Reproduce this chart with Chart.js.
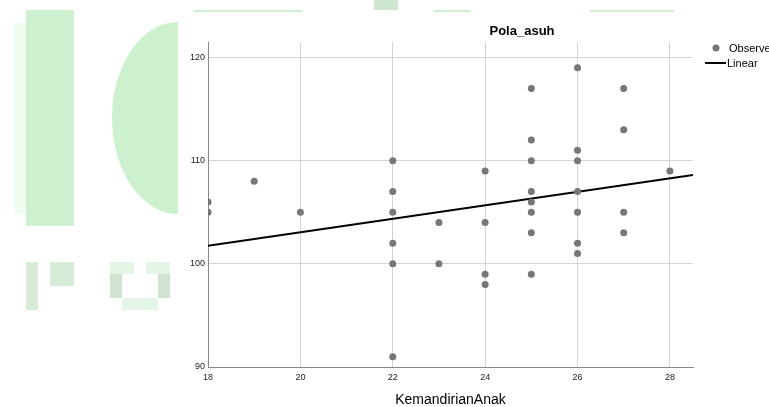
<!DOCTYPE html>
<html lang="en">
<head>
    <meta charset="UTF-8">
    <title>Pola_asuh vs KemandirianAnak</title>
    <script src="https://cdn.jsdelivr.net/npm/chart.js"></script>
    <style>
        html, body { margin: 0; padding: 0; background: #fff; }
        #wrap { width: 769px; height: 407px; position: relative; }
    </style>
</head>
<body>
    <div id="wrap"><canvas id="scatterChart"></canvas></div>

    <script>
        const kemandirian = [18, 18, 19, 20, 22, 22, 22, 22, 22, 22, 23, 23, 24, 24, 24, 24,
                             25, 25, 25, 25, 25, 25, 25, 25, 26, 26, 26, 26, 26, 26, 26,
                             27, 27, 27, 27, 28];
        const polaAsuh = [106, 105, 108, 105, 110, 107, 105, 102, 100, 91, 104, 100, 109, 104, 99, 98,
                          117, 112, 110, 107, 106, 105, 103, 99, 119, 111, 110, 107, 105, 102, 101,
                          117, 113, 105, 103, 109];

        // fitted linear line, ends read at the plot edges
        const fitX = [18, 28.5];
        const fitY = [101.75, 108.6];

        const xTicks = [18, 20, 22, 24, 26, 28];
        const yTicks = [90, 100, 110, 120];

        const observed = kemandirian.map((x, i) => ({ x: x, y: polaAsuh[i] }));
        const linear = fitX.map((x, i) => ({ x: x, y: fitY[i] }));

        // faint green watermark blocks behind the chart
        const watermark = {
            id: 'watermark',
            beforeDraw(chart) {
                const c = chart.ctx;
                c.save();
                c.fillStyle = '#f2fdf2';
                c.fillRect(14, 22, 12, 192);
                c.fillStyle = '#cdf1cf';
                c.fillRect(26, 10, 48, 216);
                c.beginPath();
                c.ellipse(178, 118, 66, 96, 0, Math.PI / 2, Math.PI * 1.5);
                c.fill();
                c.fillRect(194, 10, 108, 2);
                c.fillRect(434, 10, 36, 2);
                c.fillRect(590, 10, 84, 2);
                c.fillStyle = '#cfe6d0';
                c.fillRect(374, 0, 24, 10);
                c.fillStyle = '#d7ecd8';
                c.fillRect(26, 262, 12, 48);
                c.fillRect(50, 262, 24, 24);
                c.fillStyle = '#cfe3d0';
                c.fillRect(110, 274, 12, 24);
                c.fillRect(158, 274, 12, 24);
                c.fillStyle = '#e3f5e4';
                c.fillRect(110, 262, 24, 12);
                c.fillRect(146, 262, 24, 12);
                c.fillRect(122, 298, 36, 12);
                c.restore();
            }
        };

        // title, axis title and legend drawn in SPSS style
        const labels = {
            id: 'labels',
            afterDraw(chart) {
                const c = chart.ctx;
                const area = chart.chartArea;
                c.save();
                c.fillStyle = '#000';
                c.textBaseline = 'middle';
                c.textAlign = 'center';
                c.font = 'bold 13px "Liberation Sans", Arial, sans-serif';
                c.fillText('Pola_asuh', 522, 31);
                c.font = '14px "Liberation Sans", Arial, sans-serif';
                c.fillText('KemandirianAnak', (area.left + area.right) / 2, 400);

                // legend
                c.textAlign = 'left';
                c.font = '11px "Liberation Sans", Arial, sans-serif';
                c.fillStyle = '#777';
                c.beginPath();
                c.arc(716, 48, 3.5, 0, Math.PI * 2);
                c.fill();
                c.fillStyle = '#000';
                c.fillText('Observed', 729, 49);
                c.strokeStyle = '#000';
                c.lineWidth = 2;
                c.beginPath();
                c.moveTo(705, 63);
                c.lineTo(726, 63);
                c.stroke();
                c.fillText('Linear', 727, 64);
                c.restore();
            }
        };

        const ctx = document.getElementById('scatterChart').getContext('2d');

        const chart = new Chart(ctx, {
            type: 'scatter',
            data: {
                datasets: [{
                    label: 'Observed',
                    data: observed,
                    backgroundColor: '#777777',
                    borderColor: '#777777',
                    pointRadius: 3.5,
                    pointHoverRadius: 3.5,
                    borderWidth: 0
                }, {
                    label: 'Linear',
                    type: 'line',
                    data: linear,
                    borderColor: '#000000',
                    borderWidth: 2,
                    pointRadius: 0,
                    fill: false,
                    tension: 0
                }]
            },
            options: {
                responsive: true,
                maintainAspectRatio: false,
                animation: false,
                layout: {
                    padding: { top: 42, right: 76, left: 0, bottom: 0 }
                },
                plugins: {
                    legend: { display: false },
                    tooltip: { enabled: false }
                },
                scales: {
                    x: {
                        type: 'linear',
                        min: 18,
                        max: 28.5,
                        afterBuildTicks: axis => { axis.ticks = xTicks.map(v => ({ value: v })); },
                        afterFit: axis => { axis.height = 40; },
                        grid: {
                            color: ctx => ctx.tick && ctx.tick.value === 18 ? 'rgba(0,0,0,0)' : '#d4d4d4',
                            lineWidth: 1,
                            drawTicks: false
                        },
                        border: { color: '#888', width: 1 },
                        ticks: {
                            color: '#222',
                            font: { size: 9, family: '"Liberation Sans", Arial, sans-serif' },
                            padding: 5,
                            maxRotation: 0
                        }
                    },
                    y: {
                        type: 'linear',
                        min: 90,
                        max: 121.5,
                        afterBuildTicks: axis => { axis.ticks = yTicks.map(v => ({ value: v })); },
                        afterFit: axis => { axis.width = 208; },
                        grid: {
                            color: ctx => ctx.tick && ctx.tick.value === 90 ? 'rgba(0,0,0,0)' : '#d4d4d4',
                            lineWidth: 1,
                            drawTicks: false
                        },
                        border: { color: '#888', width: 1 },
                        ticks: {
                            color: '#222',
                            font: { size: 9, family: '"Liberation Sans", Arial, sans-serif' },
                            padding: 3
                        }
                    }
                }
            },
            plugins: [watermark, labels]
        });
    </script>
</body>
</html>
